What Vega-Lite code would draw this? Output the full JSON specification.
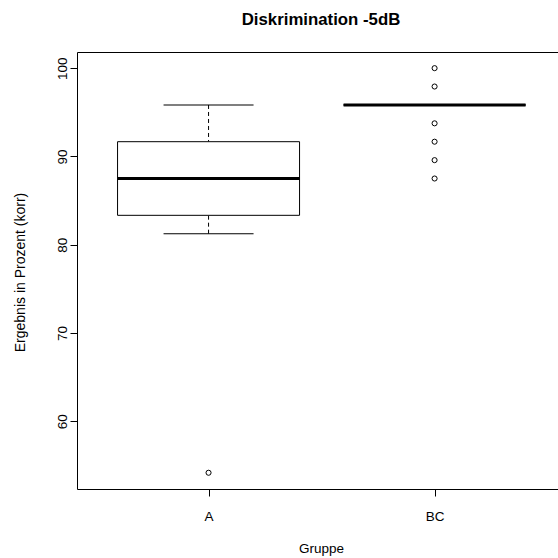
{
  "$schema": "https://vega.github.io/schema/vega-lite/v6.json",
  "width": 481,
  "height": 437,
  "autosize": {"type": "none"},
  "padding": {"left": 77, "top": 52, "right": 0, "bottom": 69},
  "background": "white",
  "config": {
    "view": {"stroke": null},
    "font": "Liberation Sans",
    "axis": {"grid": false, "domainColor": "#000000", "tickColor": "#000000", "labelColor": "#000000", "titleColor": "#000000", "domainWidth": 1, "tickWidth": 1}
  },
  "title": {
    "text": "Diskrimination -5dB",
    "font": "Liberation Sans",
    "fontSize": 16.8,
    "fontWeight": "bold",
    "color": "#000000",
    "anchor": "middle",
    "frame": "group",
    "baseline": "alphabetic",
    "offset": 10,
    "dx": 3.5
  },
  "datasets": {
    "stats": [
      {"group": "A", "pos": 1, "lower": 81.25, "q1": 83.33, "median": 87.5, "q3": 91.67, "upper": 95.83},
      {"group": "BC", "pos": 2, "lower": 95.83, "q1": 95.83, "median": 95.83, "q3": 95.83, "upper": 95.83}
    ],
    "outliers": [
      {"group": "A", "pos": 1, "value": 54.17},
      {"group": "BC", "pos": 2, "value": 100},
      {"group": "BC", "pos": 2, "value": 97.92},
      {"group": "BC", "pos": 2, "value": 93.75},
      {"group": "BC", "pos": 2, "value": 91.67},
      {"group": "BC", "pos": 2, "value": 89.58},
      {"group": "BC", "pos": 2, "value": 87.5}
    ]
  },
  "layer": [
    {
      "data": {"name": "stats"},
      "mark": {"type": "rule", "color": "#000000", "strokeWidth": 1, "strokeDash": [4, 3]},
      "encoding": {
        "x": {
          "field": "pos", "type": "quantitative",
          "scale": {"domain": [0.418, 2.546], "nice": false, "zero": false, "padding": 0},
          "axis": {
            "orient": "bottom",
            "values": [1, 2],
            "labelExpr": "datum.value == 1 ? 'A' : 'BC'",
            "tickSize": 7,
            "labelFontSize": 13.5,
            "labelBaseline": "alphabetic",
            "labelPadding": 24,
            "labelAlign": "center",
            "labelFlush": false,
            "title": "Gruppe",
            "titleFontSize": 13.5,
            "titleFontWeight": "normal",
            "titleBaseline": "alphabetic",
            "titleAlign": "center",
            "titleX": 244,
            "titleY": 63
          }
        },
        "y": {
          "field": "upper", "type": "quantitative",
          "scale": {"domain": [52.33, 101.83], "nice": false, "zero": false, "padding": 0},
          "axis": {
            "orient": "left",
            "values": [60, 70, 80, 90, 100],
            "tickSize": 7,
            "labelFontSize": 13.5,
            "labelAngle": -90,
            "labelAlign": "center",
            "labelBaseline": "alphabetic",
            "labelPadding": 4,
            "labelFlush": false,
            "title": "Ergebnis in Prozent (korr)",
            "titleFontSize": 14,
            "titleFontWeight": "normal",
            "titleAngle": -90,
            "titleAlign": "center",
            "titleBaseline": "alphabetic",
            "titleX": -52.5,
            "titleY": 220
          }
        },
        "y2": {"field": "q3"}
      }
    },
    {
      "data": {"name": "stats"},
      "mark": {"type": "rule", "color": "#000000", "strokeWidth": 1, "strokeDash": [4, 3]},
      "encoding": {
        "x": {"field": "pos", "type": "quantitative", "axis": null},
        "y": {"field": "lower", "type": "quantitative"},
        "y2": {"field": "q1"}
      }
    },
    {
      "data": {"name": "stats"},
      "mark": {"type": "tick", "orient": "horizontal", "color": "#000000", "size": 90, "thickness": 1, "opacity": 1},
      "encoding": {
        "x": {"field": "pos", "type": "quantitative", "axis": null},
        "y": {"field": "upper", "type": "quantitative"}
      }
    },
    {
      "data": {"name": "stats"},
      "mark": {"type": "tick", "orient": "horizontal", "color": "#000000", "size": 90, "thickness": 1, "opacity": 1},
      "encoding": {
        "x": {"field": "pos", "type": "quantitative", "axis": null},
        "y": {"field": "lower", "type": "quantitative"}
      }
    },
    {
      "data": {"name": "stats"},
      "mark": {"type": "bar", "fill": "white", "stroke": "#000000", "strokeWidth": 1, "size": 182, "opacity": 1},
      "encoding": {
        "x": {"field": "pos", "type": "quantitative", "axis": null},
        "y": {"field": "q1", "type": "quantitative"},
        "y2": {"field": "q3"}
      }
    },
    {
      "data": {"name": "stats"},
      "mark": {"type": "tick", "orient": "horizontal", "color": "#000000", "size": 182, "thickness": 3, "opacity": 1},
      "encoding": {
        "x": {"field": "pos", "type": "quantitative", "axis": null},
        "y": {"field": "median", "type": "quantitative"}
      }
    },
    {
      "data": {"name": "outliers"},
      "mark": {"type": "point", "shape": "circle", "filled": false, "stroke": "#000000", "strokeWidth": 1, "size": 26, "opacity": 1},
      "encoding": {
        "x": {
          "field": "pos", "type": "quantitative",
          "axis": {"orient": "top", "ticks": false, "labels": false, "title": null, "domain": true}
        },
        "y": {"field": "value", "type": "quantitative"}
      }
    }
  ],
  "resolve": {"axis": {"x": "independent"}}
}
